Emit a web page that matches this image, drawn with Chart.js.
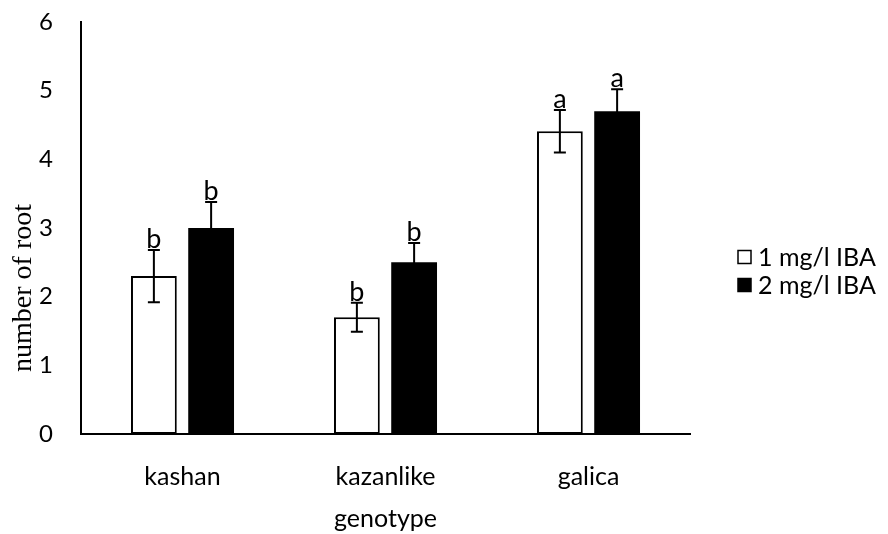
<!DOCTYPE html>
<html>
<head>
<meta charset="utf-8">
<script src="https://cdn.jsdelivr.net/npm/chart.js@4.4.1/dist/chart.umd.min.js"></script>
<style>
  html, body { margin: 0; padding: 0; background: #ffffff; }
  #wrap { width: 888px; height: 534px; }
</style>
</head>
<body>
<div id="wrap"><canvas id="chart" width="888" height="534"></canvas></div>
<script>
// Mean number of roots per genotype at two IBA concentrations
const genotypes = ['kashan', 'kazanlike', 'galica'];
const seriesNames = ['1 mg/l IBA', '2 mg/l IBA'];
const rootsLow = [2.30, 1.70, 4.41];     // 1 mg/l IBA
const rootsHigh = [3.00, 2.50, 4.70];    // 2 mg/l IBA
const errLow = [0.38, 0.21, 0.31];
const errHigh = [0.38, 0.28, 0.32];
const lettersLow = ['b', 'b', 'a'];
const lettersHigh = ['b', 'b', 'a'];
const yTicks = [0, 1, 2, 3, 4, 5, 6];
const yTitle = 'number of root';
const xTitle = 'genotype';

const SANS = 'Lato, "Open Sans", sans-serif';
const SERIF = '"Liberation Serif", "DejaVu Serif", serif';

// Error bars and significance letters on top of every bar
const errorBarPlugin = {
  id: 'errorBars',
  afterDatasetsDraw(chart) {
    const ctx = chart.ctx;
    const yScale = chart.scales.y;
    const errs = [errLow, errHigh];
    const letters = [lettersLow, lettersHigh];
    chart.data.datasets.forEach((ds, di) => {
      const meta = chart.getDatasetMeta(di);
      meta.data.forEach((bar, i) => {
        const v = ds.data[i];
        const e = errs[di][i];
        const yTop = yScale.getPixelForValue(v + e);
        const yBot = yScale.getPixelForValue(v - e);
        const x = bar.x;
        ctx.save();
        ctx.strokeStyle = '#000000';
        ctx.lineWidth = 2;
        ctx.beginPath();
        ctx.moveTo(x, yTop); ctx.lineTo(x, yBot);
        ctx.moveTo(x - 6, yTop); ctx.lineTo(x + 6, yTop);
        ctx.moveTo(x - 6, yBot); ctx.lineTo(x + 6, yBot);
        ctx.stroke();
        ctx.fillStyle = '#000000';
        ctx.font = '27px ' + SANS;
        ctx.textAlign = 'center';
        ctx.textBaseline = 'alphabetic';
        ctx.fillText(letters[di][i], x, yTop - 2);
        ctx.restore();
      });
    });
  }
};

// Rotated y-axis title and the legend to the right of the plot area
const sideTextPlugin = {
  id: 'sideText',
  afterDraw(chart) {
    const ctx = chart.ctx;
    const area = chart.chartArea;

    ctx.save();
    ctx.translate(31, 288);
    ctx.rotate(-Math.PI / 2);
    ctx.fillStyle = '#000000';
    ctx.font = '28px ' + SERIF;
    ctx.textAlign = 'center';
    ctx.textBaseline = 'alphabetic';
    ctx.fillText(yTitle, 0, 0);
    ctx.restore();

    const x0 = area.right + 48;
    const y0 = 257;
    const rowGap = 28;
    chart.data.datasets.forEach((ds, di) => {
      const cy = y0 + di * rowGap;
      ctx.save();
      ctx.lineWidth = 1.5;
      ctx.strokeStyle = '#000000';
      ctx.fillStyle = ds.backgroundColor;
      ctx.fillRect(x0, cy - 6.5, 13, 13);
      ctx.strokeRect(x0, cy - 6.5, 13, 13);
      ctx.fillStyle = '#000000';
      ctx.font = '25px ' + SANS;
      ctx.textAlign = 'left';
      ctx.textBaseline = 'middle';
      ctx.fillText(ds.label, x0 + 20, cy + 1);
      ctx.restore();
    });
  }
};

new Chart(document.getElementById('chart'), {
  type: 'bar',
  data: {
    labels: genotypes,
    datasets: [
      {
        label: seriesNames[0],
        data: rootsLow,
        backgroundColor: '#ffffff',
        borderColor: '#000000',
        borderWidth: 2,
        borderSkipped: false
      },
      {
        label: seriesNames[1],
        data: rootsHigh,
        backgroundColor: '#000000',
        borderColor: '#000000',
        borderWidth: 0
      }
    ]
  },
  options: {
    responsive: false,
    animation: false,
    devicePixelRatio: 1,
    categoryPercentage: 0.564,
    barPercentage: 0.8,
    layout: { padding: { top: 22, right: 198, left: 0, bottom: 0 } },
    plugins: {
      legend: { display: false },
      tooltip: { enabled: false }
    },
    scales: {
      x: {
        grid: { display: false, drawTicks: false },
        border: { display: true, color: '#000000', width: 2 },
        ticks: { color: '#000000', font: { family: SANS, size: 25 }, padding: 28 },
        title: {
          display: true, text: xTitle, color: '#000000',
          font: { family: SANS, size: 25 }, padding: { top: 6, bottom: 0 }
        },
        afterFit(scale) {
          scale.height = 100;
          scale.paddingLeft = 0;
          scale.paddingRight = 0;
        }
      },
      y: {
        min: 0,
        max: 6,
        afterBuildTicks(scale) { scale.ticks = yTicks.map(v => ({ value: v })); },
        grid: { display: false, drawTicks: false },
        border: { display: true, color: '#000000', width: 2 },
        ticks: { color: '#000000', font: { family: SANS, size: 24 }, padding: 28 },
        title: { display: false },
        afterFit(scale) {
          scale.width = 81;
          scale.paddingTop = 0;
          scale.paddingBottom = 0;
        }
      }
    }
  },
  plugins: [errorBarPlugin, sideTextPlugin]
});
</script>
</body>
</html>
